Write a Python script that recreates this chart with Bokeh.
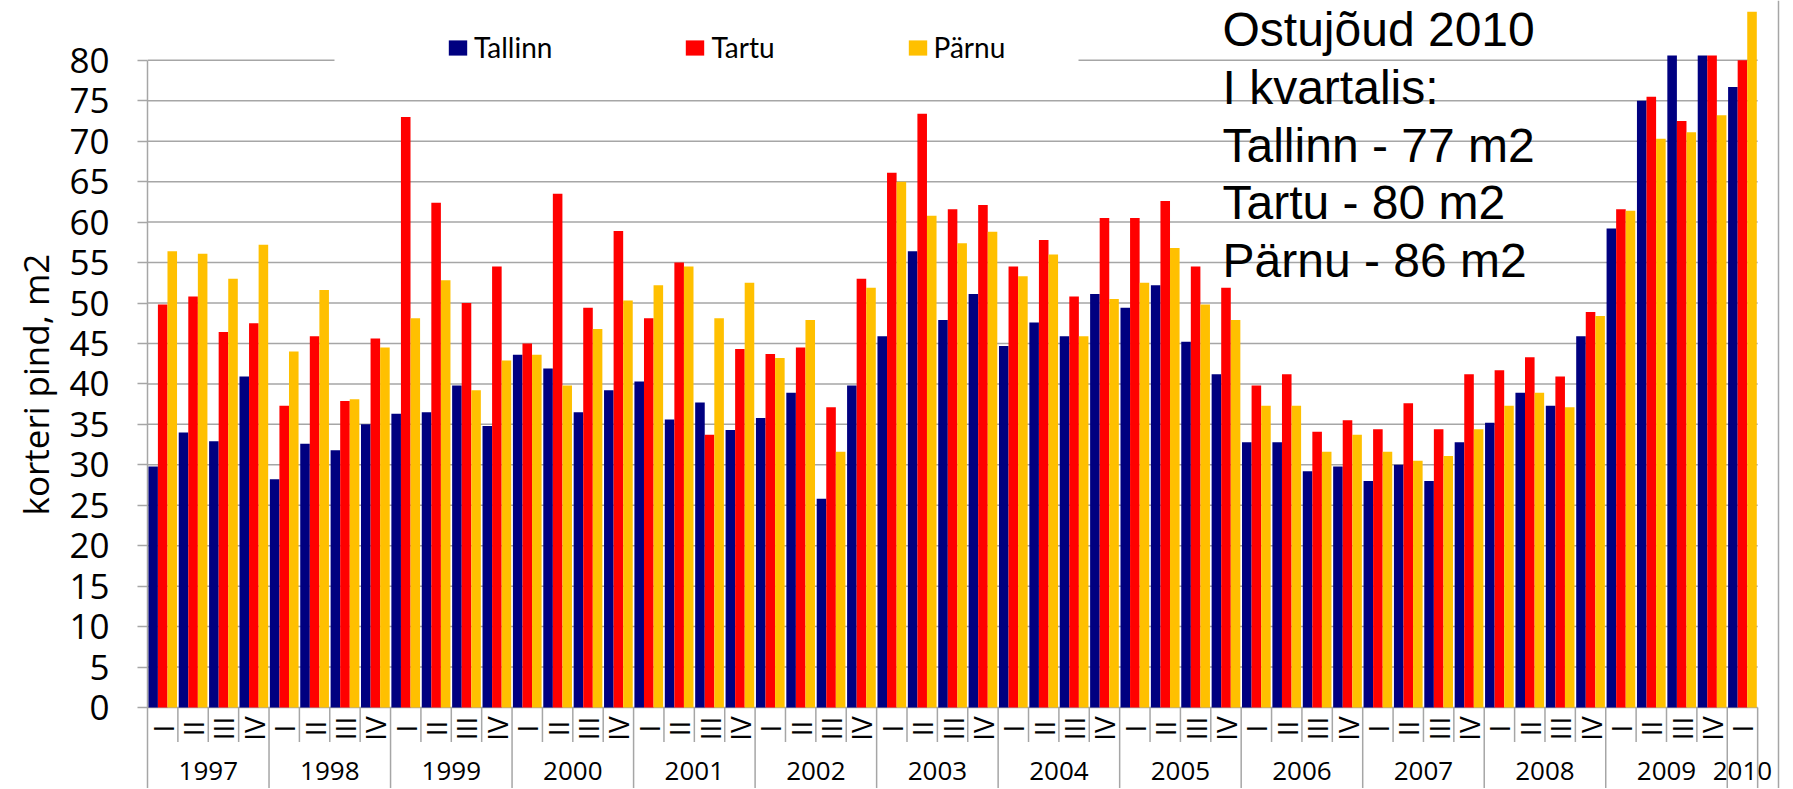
from math import pi
import numpy as np
from bokeh.plotting import figure
from bokeh.models import (Range1d, FixedTicker, LinearAxis, Legend, LegendItem,
                          BoxAnnotation, Span, Title)
from bokeh.core.properties import value
from bokeh.embed import file_html
from bokeh.resources import INLINE

# ---------------- data ----------------
years = ["1997", "1998", "1999", "2000", "2001", "2002", "2003",
         "2004", "2005", "2006", "2007", "2008", "2009", "2010"]
quarters_per_year = [4, 4, 4, 4, 4, 4, 4, 4, 4, 4, 4, 4, 4, 1]
quarter_names = ["I", "II", "III", "IV"]

tallinn = [29.8, 34.0, 32.9, 40.9,
           28.2, 32.6, 31.8, 35.0,
           36.3, 36.5, 39.8, 34.8,
           43.6, 41.9, 36.5, 39.2,
           40.3, 35.6, 37.7, 34.3,
           35.8, 38.9, 25.8, 39.8,
           45.9, 56.4, 47.9, 51.1,
           44.7, 47.6, 45.9, 51.1,
           49.4, 52.2, 45.2, 41.2,
           32.8, 32.8, 29.2, 29.8,
           28.0, 30.0, 28.0, 32.8,
           35.2, 38.9, 37.3, 45.9,
           59.2, 75.0, 80.6, 80.6,
           76.7]
tartu = [49.8, 50.8, 46.4, 47.5,
         37.3, 45.9, 37.9, 45.6,
         73.0, 62.4, 50.0, 54.5,
         45.0, 63.5, 49.4, 58.9,
         48.1, 55.0, 33.7, 44.3,
         43.7, 44.5, 37.1, 53.0,
         66.1, 73.4, 61.6, 62.1,
         54.5, 57.8, 50.8, 60.5,
         60.5, 62.6, 54.5, 51.9,
         39.8, 41.2, 34.1, 35.5,
         34.4, 37.6, 34.4, 41.2,
         41.7, 43.3, 40.9, 48.9,
         61.6, 75.5, 72.5, 80.6,
         80.0]
parnu = [56.4, 56.1, 53.0, 57.2,
         44.0, 51.6, 38.1, 44.5,
         48.1, 52.8, 39.2, 42.9,
         43.6, 39.8, 46.8, 50.3,
         52.2, 54.5, 48.1, 52.5,
         43.2, 47.9, 31.6, 51.9,
         65.0, 60.8, 57.4, 58.8,
         53.3, 56.0, 45.9, 50.5,
         52.5, 56.8, 49.8, 47.9,
         37.3, 37.3, 31.6, 33.7,
         31.6, 30.5, 31.1, 34.4,
         37.3, 38.9, 37.1, 48.4,
         61.4, 70.3, 71.1, 73.2,
         86.0]
series_names = ["Tallinn", "Tartu", "Pärnu"]
series_values = [tallinn, tartu, parnu]
series_colors = ["#000080", "#FF0000", "#FFC000"]
y_ticks = list(range(0, 85, 5))
y_title = "korteri pind, m2"
note_lines = ["Ostujõud 2010", "I kvartalis:", "Tallinn - 77 m2",
              "Tartu - 80 m2", "Pärnu - 86 m2"]

# ---------------- derived ----------------
quarter_labels = []
for yr, nq in zip(years, quarters_per_year):
    quarter_labels += quarter_names[:nq]
n = len(quarter_labels)
idx = np.arange(n)
bounds = np.concatenate([[0], np.cumsum(quarters_per_year)])
year_centers = (bounds[:-1] + bounds[1:]) / 2.0
year_set = set(bounds.tolist())
inner_seps = [i for i in range(1, n) if i not in year_set]

# ---------------- layout constants ----------------
W, H = 1792, 788
LEFT = 147                 # pixel x of the value axis
ZERO_Y = 707               # pixel y of value 0
PX_PER_Q = 30.38
PX_PER_UNIT = 8.09


def px_x(px):
    return (px - LEFT) / PX_PER_Q


def px_y(py):
    return (ZERO_Y - py) / PX_PER_UNIT


x_end = px_x(W)
y_top = px_y(0)
y_bottom = px_y(H)
q_row_bottom = px_y(741.5)
q_label_y = px_y(728)
year_label_y = px_y(770)
BW = 0.315
GRID = "#a6a6a6"

p = figure(width=W, height=H, x_range=Range1d(0, x_end),
           y_range=Range1d(y_bottom, y_top),
           output_backend="svg", toolbar_location=None,
           x_axis_location=None, y_axis_location=None,
           min_border_left=LEFT, min_border_right=0,
           min_border_top=0, min_border_bottom=0,
           outline_line_color=None, background_fill_color="white",
           border_fill_color="white")
p.xgrid.visible = False
p.ygrid.visible = False

# gridlines (also the category baseline at 0)
p.segment(x0=[0] * len(y_ticks), x1=[n] * len(y_ticks), y0=y_ticks, y1=y_ticks,
          line_color=GRID, line_width=1.5)

# category separators
p.segment(x0=inner_seps, x1=inner_seps, y0=[0] * len(inner_seps),
          y1=[q_row_bottom] * len(inner_seps), line_color=GRID, line_width=1.5)
ys = [b for b in bounds.tolist() if b > 0]
p.segment(x0=ys, x1=ys, y0=[0] * len(ys), y1=[y_bottom] * len(ys),
          line_color=GRID, line_width=1.5)

# bars
renderers = []
for k, (vals, col) in enumerate(zip(series_values, series_colors)):
    r = p.vbar(x=idx + 0.5 + (k - 1) * BW, top=vals, bottom=0, width=BW,
               fill_color=col, line_color=None)
    renderers.append(r)

# quarter labels (rotated) and year labels
p.text(x=idx + 0.5, y=[q_label_y] * n, text=quarter_labels, angle=pi / 2,
       text_align="center", text_baseline="middle",
       text_font=value("Open Sans"), text_font_size="28px", text_color="black")
p.text(x=year_centers, y=[year_label_y] * len(years), text=years,
       text_align="center", text_baseline="middle",
       text_font=value("Open Sans"), text_font_size="26px", text_color="black")

# note text
note_x = px_x(1222)
note_centers = [29.2 + i * 57.7 for i in range(len(note_lines))]
p.text(x=[note_x] * len(note_lines),
       y=[px_y(c) for c in note_centers],
       text=note_lines, text_align="left", text_baseline="middle",
       text_font=value("Liberation Sans"), text_font_size="48px",
       text_color="black")

# right border line
p.add_layout(Span(location=px_x(1778), dimension="height",
                  line_color=GRID, line_width=1.5))

# y axis
ax = LinearAxis(ticker=FixedTicker(ticks=y_ticks), bounds=(y_bottom, 80))
ax.axis_line_color = GRID
ax.axis_line_width = 1.5
ax.major_tick_line_color = GRID
ax.major_tick_line_width = 1.5
ax.major_tick_out = 10
ax.major_tick_in = 0
ax.minor_tick_out = 0
ax.minor_tick_in = 0
ax.major_label_standoff = 28
ax.major_label_text_font = "Open Sans"
ax.major_label_text_font_size = "35px"
ax.major_label_text_color = "black"
p.add_layout(ax, "left")

# y axis title, placed as a side title so it can sit off-centre like the original
p.add_layout(Title(text=y_title, align="left", offset=H - 515,
                   vertical_align="middle", standoff=13,
                   text_font="Open Sans", text_font_size="35px",
                   text_font_style="normal", text_color="black"), "left")

# white patch behind legend hiding the top gridline
p.add_layout(BoxAnnotation(left=px_x(334), right=px_x(1078),
                           bottom=px_y(68), top=px_y(50), fill_color="white",
                           fill_alpha=1.0, line_color=None, level="annotation"))

legend = Legend(items=[LegendItem(label=nm, renderers=[r])
                       for nm, r in zip(series_names, renderers)],
                orientation="horizontal", location=(452 - LEFT - 6, H - 64),
                glyph_width=23, glyph_height=19, label_standoff=5, spacing=131,
                padding=6, margin=0,
                label_text_font="Lato",
                label_text_font_size="28px", label_text_color="black",
                border_line_color=None, background_fill_color="white",
                background_fill_alpha=1.0)
p.add_layout(legend)

open("out.html", "w").write(file_html(p, INLINE))
